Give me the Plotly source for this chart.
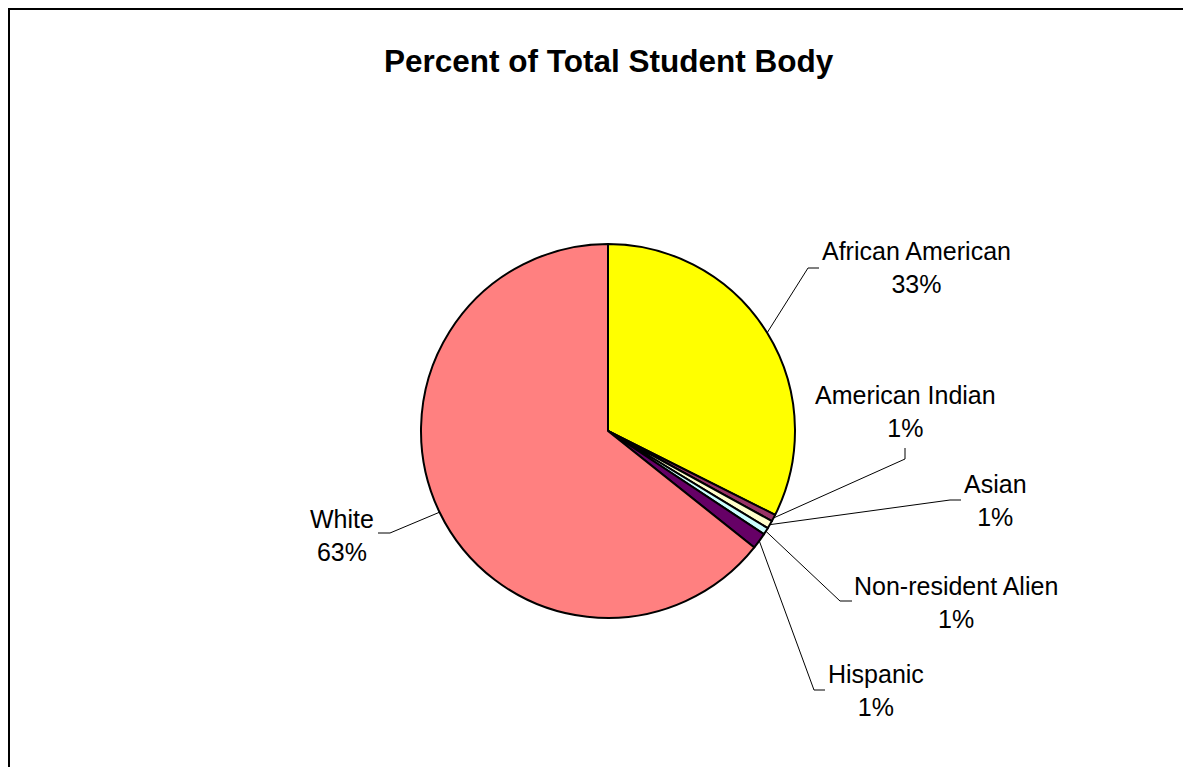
import math
import plotly.graph_objects as go

# data
categories = ["African American", "American Indian", "Asian",
              "Non-resident Alien", "Hispanic", "White"]
shares = [32.4, 0.6, 0.7, 0.6, 1.4, 64.3]
pct_labels = ["33%", "1%", "1%", "1%", "1%", "63%"]
colors = ["#FFFF00", "#993366", "#FFFFCC", "#CCFFFF", "#660066", "#FF8080"]

OFF = 8  # page body margin
W, H = 1191 - OFF, 767 - OFF
CX, CY, R = 608, 431, 187

# label centre and leader elbow/end (screen pixels)
label_pos = [(916, 268), (905, 411), (995, 500), (956, 602), (876, 690), (342, 535)]
elbows = [[(808, 268), (819, 268)],
          [(905, 459), (905, 448)],
          [(950, 500), (961, 500)],
          [(840, 601), (852, 601)],
          [(814, 690), (825, 690)],
          [(390, 533), (378, 533)]]

def px(x):
    return (x - OFF) / W

def py(y):
    return 1 - (y - OFF) / H

fig = go.Figure()
fig.add_trace(go.Pie(
    labels=categories, values=shares, sort=False, direction="clockwise",
    rotation=0, textinfo="none", hoverinfo="label+percent",
    marker=dict(colors=colors, line=dict(color="black", width=2)),
    domain=dict(x=[px(CX - R), px(CX + R)], y=[py(CY + R), py(CY - R)]),
    showlegend=False,
))

total = sum(shares)
shapes = []
annotations = []
cum = 0
for i, (name, v) in enumerate(zip(categories, shares)):
    mid = (cum + v / 2) / total * 2 * math.pi
    cum += v
    sx = CX + R * math.sin(mid)
    sy = CY - R * math.cos(mid)
    pts = [(sx, sy)] + elbows[i]
    path = "M " + " L ".join(f"{px(x)},{py(y)}" for x, y in pts)
    shapes.append(dict(type="path", xref="paper", yref="paper", path=path,
                       line=dict(color="black", width=1)))
    lx, ly = label_pos[i]
    annotations.append(dict(x=px(lx), y=py(ly), xref="paper", yref="paper",
                            text=f"{name}<br>{pct_labels[i]}", showarrow=False,
                            xanchor="center", yanchor="middle", align="center",
                            font=dict(size=25, color="black")))

# chart frame: only left and top edges are visible
top = 1 - 1 / H
shapes.append(dict(type="path", xref="paper", yref="paper",
                   path=f"M {px(9)},-0.02 L {px(9)},{top} L 1.02,{top}",
                   line=dict(color="black", width=2)))

annotations.append(dict(x=px(609), y=py(61), xref="paper", yref="paper",
                        text="<b>Percent of Total Student Body</b>", showarrow=False,
                        xanchor="center", yanchor="middle",
                        font=dict(size=31.5, color="black")))

fig.update_layout(
    width=W, height=H, margin=dict(l=0, r=0, t=0, b=0),
    paper_bgcolor="white", plot_bgcolor="white",
    font=dict(family="Liberation Sans, Arial, sans-serif"),
    shapes=shapes, annotations=annotations,
)

fig.write_html("out.html")
